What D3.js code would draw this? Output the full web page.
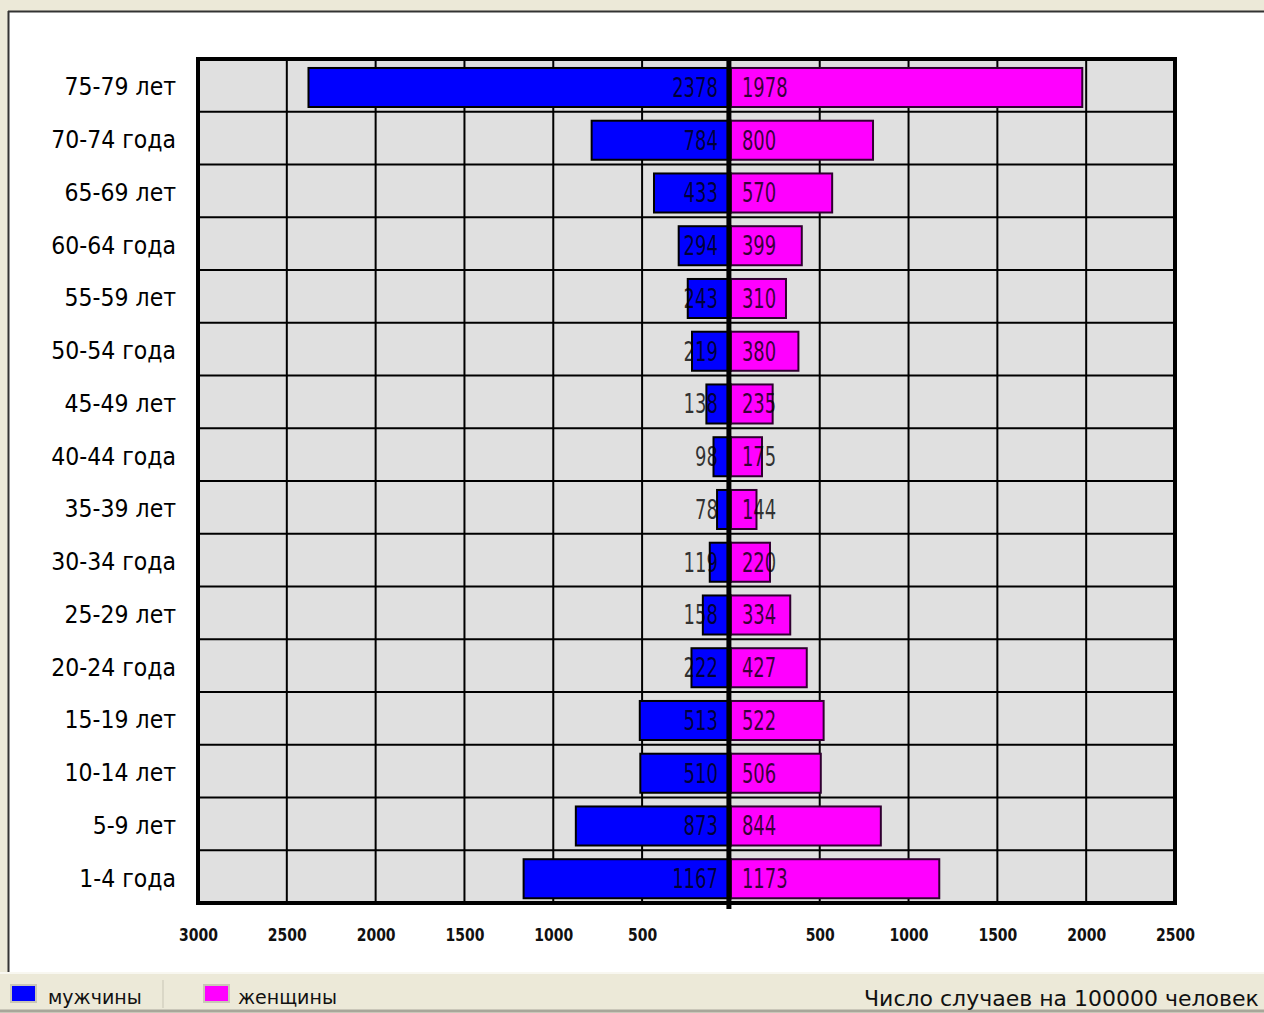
<!DOCTYPE html>
<html><head><meta charset="utf-8">
<script src="https://cdn.jsdelivr.net/npm/d3@7"></script>
<style>
body{margin:0;background:#fff;}
svg{display:block;}
.narrow{font-family:"Liberation Sans Narrow","DejaVu Sans Condensed","Arial Narrow",sans-serif;}
</style></head>
<body>
<svg id="c" width="1264" height="1013"></svg>
<script>
const categories = ["75-79 лет","70-74 года","65-69 лет","60-64 года","55-59 лет","50-54 года","45-49 лет","40-44 года","35-39 лет","30-34 года","25-29 лет","20-24 года","15-19 лет","10-14 лет","5-9 лет","1-4 года"];
const men   = [2378, 784, 433, 294, 243, 219, 138, 98, 78, 119, 158, 222, 513, 510, 873, 1167];
const women = [1978, 800, 570, 399, 310, 380, 235, 175, 144, 220, 334, 427, 522, 506, 844, 1173];
const tickValues = [-3000,-2500,-2000,-1500,-1000,-500,500,1000,1500,2000,2500];
const seriesNames = ["мужчины","женщины"];
const footnote = "Число случаев на 100000 человек";

const svg = d3.select("#c");
// window chrome
svg.append("rect").attr("x",0).attr("y",0).attr("width",1264).attr("height",1013).attr("fill","#ECE9D8");
svg.append("rect").attr("x",9).attr("y",12).attr("width",1255).attr("height",960).attr("fill","#fff");
svg.append("line").attr("x1",8).attr("x2",1264).attr("y1",11.5).attr("y2",11.5).attr("stroke","#333").attr("stroke-width",2);
svg.append("line").attr("x1",8.5).attr("x2",8.5).attr("y1",11).attr("y2",972).attr("stroke","#333").attr("stroke-width",2);
svg.append("line").attr("x1",0).attr("x2",1264).attr("y1",973).attr("y2",973).attr("stroke","#f8f7f0").attr("stroke-width",2);
svg.append("line").attr("x1",0).attr("x2",1264).attr("y1",1011).attr("y2",1011).attr("stroke","#a8a69a").attr("stroke-width",3);
svg.append("line").attr("x1",163).attr("x2",163).attr("y1",980).attr("y2",1008).attr("stroke","#c8c5b5").attr("stroke-width",1);

const L=198, R=1175, T=59, B=903;
const x = d3.scaleLinear().domain([-3000,2500]).range([L,R]);
const y = d3.scaleBand().domain(categories).range([T,B]).paddingInner(0);

svg.append("rect").attr("x",L).attr("y",T).attr("width",R-L).attr("height",B-T).attr("fill","#E0E0E0");

// gridlines
const g = svg.append("g");
g.selectAll("line.v").data(tickValues.filter(v=>v>-3000 && v<2500)).join("line")
  .attr("x1",d=>x(d)).attr("x2",d=>x(d)).attr("y1",T).attr("y2",B)
  .attr("stroke","#000").attr("stroke-width",2);
g.selectAll("line.h").data(categories.slice(1)).join("line")
  .attr("x1",L).attr("x2",R).attr("y1",d=>y(d)).attr("y2",d=>y(d))
  .attr("stroke","#000").attr("stroke-width",2);

const bh = y.bandwidth();
const barTop = d => y(d) + bh*0.17;
const barH = bh*0.74;

svg.append("g").selectAll("rect").data(categories).join("rect")
  .attr("x",(d,i)=>x(-men[i])).attr("y",barTop)
  .attr("width",(d,i)=>x(0)-x(-men[i])).attr("height",barH)
  .attr("fill","#0000FF").attr("stroke","#000").attr("stroke-width",2);
svg.append("g").selectAll("rect").data(categories).join("rect")
  .attr("x",x(0)).attr("y",barTop)
  .attr("width",(d,i)=>x(women[i])-x(0)).attr("height",barH)
  .attr("fill","#FF00FF").attr("stroke","#300030").attr("stroke-width",2);

// value labels (narrowed)
svg.append("g").attr("class","narrow").selectAll("text").data(categories).join("text")
  .attr("transform",d=>`translate(${x(0)-13},${barTop(d)+barH/2}) scale(0.8,1.05)`)
  .attr("dy","0.36em")
  .attr("text-anchor","end").attr("font-size",25).attr("fill","#000").attr("fill-opacity",0.78)
  .text((d,i)=>men[i]);
svg.append("g").attr("class","narrow").selectAll("text").data(categories).join("text")
  .attr("transform",d=>`translate(${x(0)+11},${barTop(d)+barH/2}) scale(0.8,1.05)`)
  .attr("dy","0.36em")
  .attr("text-anchor","start").attr("font-size",25).attr("fill","#000").attr("fill-opacity",0.78)
  .text((d,i)=>women[i]);

// center line
svg.append("line").attr("x1",x(0)-2).attr("x2",x(0)-2).attr("y1",T).attr("y2",B+6)
  .attr("stroke","#000").attr("stroke-width",5);
// border
svg.append("rect").attr("x",L).attr("y",T).attr("width",R-L).attr("height",B-T)
  .attr("fill","none").attr("stroke","#000").attr("stroke-width",4);

// y axis
const ya = svg.append("g").attr("transform",`translate(176,0)`)
  .call(d3.axisLeft(y).tickSize(0).tickPadding(0));
ya.select(".domain").remove();
ya.selectAll("text").attr("class","narrow").attr("font-size",24).attr("fill","#000")
  .attr("font-family",null).attr("dy","0.4em").attr("transform","scale(1.02,1.05)");

// x axis
const xa = svg.append("g").attr("transform",`translate(0,929)`)
  .call(d3.axisBottom(x).tickValues(tickValues).tickFormat(d=>Math.abs(d)).tickSize(0).tickPadding(0));
xa.select(".domain").remove();
xa.selectAll("text").attr("font-family","DejaVu Sans, sans-serif").attr("font-weight","bold")
  .attr("font-size",14).attr("fill","#111").attr("dy","0.71em").attr("transform","scale(1,1.25)");

// legend
const leg = svg.append("g");
const colors = ["#0000FF","#FF00FF"];
const lx = [11,204], tx=[48,238];
seriesNames.forEach((n,i)=>{
  leg.append("rect").attr("x",lx[i]).attr("y",985).attr("width",25).attr("height",17)
    .attr("fill",colors[i]).attr("stroke","#c9c6b6").attr("stroke-width",2);
  leg.append("text").attr("x",tx[i]).attr("y",1004).attr("font-family","DejaVu Sans, sans-serif")
    .attr("font-size",19).attr("fill","#111").text(n);
});
svg.append("text").attr("x",864).attr("y",1006).attr("font-family","DejaVu Sans, sans-serif")
  .attr("font-size",22).attr("fill","#111").text(footnote);
</script>
</body></html>
